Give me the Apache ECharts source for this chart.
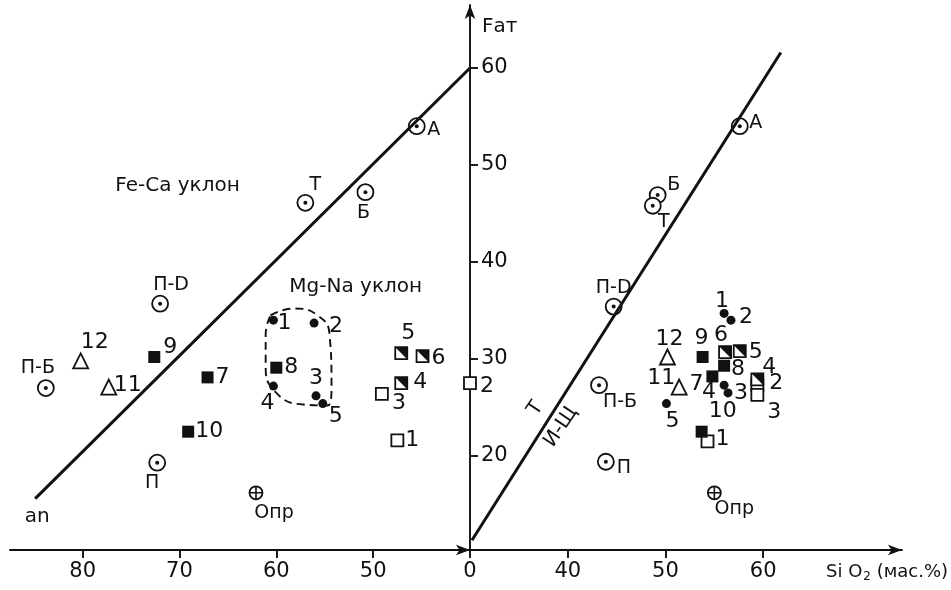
<!DOCTYPE html>
<html>
<head>
    <meta charset="utf-8"/>
    <title>Fат – SiO2</title>
    <script src="https://cdn.jsdelivr.net/npm/echarts@6.0.0/dist/echarts.min.js"></script>
</head>
<body style="margin:0;background:#fff">

<div id="main" style="width:951px;height:590px;"></div>

<script>
    // левая половина: ось идёт справа налево, "0" стоит на месте 40
    // правая половина: SiO2, "0" стоит на месте 30
    var yRange = [10.3, 66.5];
    var yTicks = [20, 30, 40, 50, 60];
    var leftTicks = [50, 60, 70, 80];
    var rightTicks = [30, 40, 50, 60];

    // [x, Fат, подпись]
    var leftCircles = [[45.5, 54.0, 'А'], [57.0, 46.1, 'Т'], [50.8, 47.2, 'Б'], [72.0, 35.7, 'П-D'], [83.8, 27.0, 'П-Б'], [72.3, 19.3, 'П']];
    var leftCross = [[62.1, 16.2, 'Опр']];
    var leftTriangles = [[80.2, 29.8, '12'], [77.3, 27.1, '11']];
    var leftSquares = [[72.6, 30.2, '9'], [67.1, 28.1, '7'], [69.1, 22.5, '10'], [60.0, 29.1, '8']];
    var leftDots = [[60.3, 34.0, '1'], [56.1, 33.7, '2'], [55.9, 26.2, '3'], [60.3, 27.2, '4'], [55.2, 25.4, '5']];
    var leftHalf = [[47.1, 30.6, '5'], [44.9, 30.3, '6'], [47.1, 27.5, '4']];
    var leftOpen = [[49.1, 26.4, '3'], [47.5, 21.6, '1'], [40.0, 27.5, '2']];
    var feCaLine = [[40, 60], [84.9, 15.6]];
    var mgNaLoop = [[60.6, 34.5], [58.2, 35.2], [55.6, 34.4], [54.5, 32.5], [54.3, 27.3], [54.7, 25.2],
        [57.2, 25.3], [60.1, 26.6], [61.1, 29.4], [61.1, 32.5], [60.6, 34.5]];

    var rightCircles = [[57.6, 54.0, 'А'], [49.2, 46.9, 'Б'], [48.7, 45.8, 'Т'], [44.7, 35.4, 'П-D'], [43.2, 27.3, 'П-Б'], [43.9, 19.4, 'П']];
    var rightCross = [[55.0, 16.2, 'Опр']];
    var rightTriangles = [[50.2, 30.2, '12'], [51.4, 27.1, '11']];
    var rightDots = [[50.1, 25.4, '5'], [56.0, 34.7, '1'], [56.7, 34.0, '2'], [56.0, 27.3, '4'], [56.4, 26.5, '3']];
    var rightSquares = [[53.8, 30.2, '9'], [54.8, 28.2, '7'], [56.0, 29.3, '8'], [53.7, 22.5, '10']];
    var rightHalf = [[56.1, 30.7, '6'], [57.6, 30.8, '5'], [59.4, 27.9, '4']];
    var rightOpen = [[54.3, 21.5, '1'], [59.4, 27.3, '2'], [59.4, 26.3, '3']];
    var ishLine = [[30.2, 11.3], [61.8, 61.6]];

    // надписи на поле
    var leftNotes = [[70.2, 47.9, 'Fe-Ca уклон'], [51.8, 37.4, 'Mg-Na уклон'], [84.7, 13.7, 'an']];
    var rightNotes = [[36.7, 24.9, 'Т'], [39.3, 23.0, 'И-Щ']];

    // сдвиги подписей точек, px
    var leftCirclesLab = [[17, 4], [10, -18], [-2, 21], [11, -19], [-8, -20], [-5, 20]];
    var leftCrossLab = [[18, 20]];
    var leftTrianglesLab = [[14, -19], [19, -2]];
    var leftSquaresLab = [[16, -10], [15, 0], [21, 0], [15, 0]];
    var leftDotsLab = [[11, 3], [22, 3], [0, -18], [-6, 17], [13, 13]];
    var leftHalfLab = [[7, -20], [16, 2], [19, -1]];
    var leftOpenLab = [[17, 9], [15, 0], [17, 3]];
    var rightCirclesLab = [[16, -3], [16, -10], [11, 16], [0, -19], [21, 17], [18, 6]];
    var rightCrossLab = [[20, 16]];
    var rightTrianglesLab = [[2, -18], [-18, -9]];
    var rightDotsLab = [[6, 18], [-2, -12], [15, -3], [-15, 7], [13, 0]];
    var rightSquaresLab = [[-1, -19], [-16, 8], [14, 4], [21, -20]];
    var rightHalfLab = [[-4, -17], [16, 1], [12, -12]];
    var rightOpenLab = [[15, -2], [19, -2], [17, 17]];

    var ink = '#111';
    var font = 'DejaVu Sans';

    function pts(arr, lab, g, sym, size, style, fontSize) {
        return {
            type: 'scatter', xAxisIndex: g, yAxisIndex: g,
            symbol: sym, symbolSize: size, itemStyle: style,
            label: {
                show: !!lab, position: 'inside', formatter: '{b}',
                color: ink, fontFamily: font, fontSize: fontSize || 22
            },
            data: arr.map(function (d, i) {
                return {name: d[2], value: [d[0], d[1]], label: lab ? {offset: lab[i]} : {}};
            })
        };
    }

    var openStyle = {color: '#fff', borderColor: ink, borderWidth: 1.8, opacity: 1};
    var fillStyle = {color: ink, opacity: 1};
    var strokeStyle = {color: 'none', borderColor: ink, borderWidth: 1.6, opacity: 1};
    var triPath = 'path://M0,0L10,0L10,10Z';
    var crossPath = 'path://M5,0L5,10M0,5L10,5';

    function group(g, circles, cLab, cross, xLab, tri, tLab, half, hLab, open, oLab, dots, dLab, sq, sLab) {
        return [
            pts(circles, cLab, g, 'circle', 16, openStyle, 19),
            pts(circles, null, g, 'circle', 4, fillStyle),
            pts(cross, xLab, g, 'circle', 13, openStyle, 19),
            pts(cross, null, g, crossPath, 13, strokeStyle),
            pts(tri, tLab, g, 'triangle', 15, openStyle),
            pts(open, oLab, g, 'rect', 12, openStyle),
            pts(half, hLab, g, 'rect', 12, openStyle),
            pts(half, null, g, triPath, 12, fillStyle),
            pts(dots, dLab, g, 'circle', 9, fillStyle),
            pts(sq, sLab, g, 'rect', 12, fillStyle)
        ];
    }

    function notes(arr, g, rotate) {
        return {
            type: 'scatter', xAxisIndex: g, yAxisIndex: g, symbolSize: 0,
            itemStyle: {opacity: 1},
            label: {show: true, position: 'inside', formatter: '{b}', color: ink, fontFamily: font,
                fontSize: 20, rotate: rotate},
            data: arr.map(function (d) { return {name: d[2], value: [d[0], d[1]]}; })
        };
    }

    function line(data, g, dashed) {
        return {
            type: 'line', xAxisIndex: g, yAxisIndex: g, symbol: 'none', smooth: dashed ? 0.5 : false,
            lineStyle: {color: ink, width: dashed ? 1.9 : 3, type: dashed ? [8, 5] : 'solid', opacity: 1},
            data: data
        };
    }

    var arrowLine = {show: true, onZero: false, symbol: ['none', 'arrow'], symbolSize: [8, 14],
        lineStyle: {color: ink, width: 1.9}};
    var tickLine = {color: ink, width: 1.9};

    var myChart = echarts.init(document.getElementById('main'));

    var option = {
        animation: false,
        backgroundColor: '#fff',
        textStyle: {fontFamily: font, color: ink},
        grid: [
            {left: 10, right: 481, top: 5, bottom: 40},
            {left: 470, right: 49, top: 5, bottom: 40}
        ],
        xAxis: [
            {
                type: 'value', gridIndex: 0, inverse: true, min: 40, max: 87.5, position: 'bottom',
                axisLine: arrowLine,
                axisTick: {show: true, customValues: leftTicks, length: 8, lineStyle: tickLine},
                axisLabel: {customValues: leftTicks, fontSize: 21, margin: 11, color: ink},
                splitLine: {show: false}
            },
            {
                type: 'value', gridIndex: 1, min: 30, max: 74.2, position: 'bottom',
                axisLine: arrowLine,
                axisTick: {show: true, customValues: rightTicks, length: 8, lineStyle: tickLine},
                axisLabel: {customValues: rightTicks, fontSize: 21, margin: 11, color: ink,
                    formatter: function (v) { return v === 30 ? '0' : v; }},
                splitLine: {show: false}
            }
        ],
        yAxis: [
            {type: 'value', gridIndex: 0, min: yRange[0], max: yRange[1], show: false},
            {
                type: 'value', gridIndex: 1, min: yRange[0], max: yRange[1], position: 'left',
                axisLine: arrowLine,
                axisTick: {show: true, inside: true, customValues: yTicks, length: 8, lineStyle: tickLine},
                axisLabel: {inside: true, customValues: yTicks, fontSize: 21, margin: 11, color: ink},
                splitLine: {show: false}
            }
        ],
        graphic: [
            {type: 'text', left: 482, top: 17, style: {text: 'Fат', font: '20px "DejaVu Sans"', fill: ink}},
            {
                type: 'text', left: 826, top: 563,
                style: {
                    text: '{a|Si O}{s|2}{a| (мас.%)}', fill: ink,
                    rich: {a: {fontSize: 18, fontFamily: font}, s: {fontSize: 12, fontFamily: font, padding: [10, 0, 0, 1]}}
                }
            }
        ],
        series: [].concat(
            [line(feCaLine, 0), line(mgNaLoop, 0, true), line(ishLine, 1)],
            group(0, leftCircles, leftCirclesLab, leftCross, leftCrossLab, leftTriangles, leftTrianglesLab,
                leftHalf, leftHalfLab, leftOpen, leftOpenLab, leftDots, leftDotsLab, leftSquares, leftSquaresLab),
            group(1, rightCircles, rightCirclesLab, rightCross, rightCrossLab, rightTriangles, rightTrianglesLab,
                rightHalf, rightHalfLab, rightOpen, rightOpenLab, rightDots, rightDotsLab, rightSquares, rightSquaresLab),
            [notes(leftNotes, 0, 0), notes(rightNotes, 1, 56)]
        )
    };

    myChart.setOption(option);
</script>

</body>
</html>
